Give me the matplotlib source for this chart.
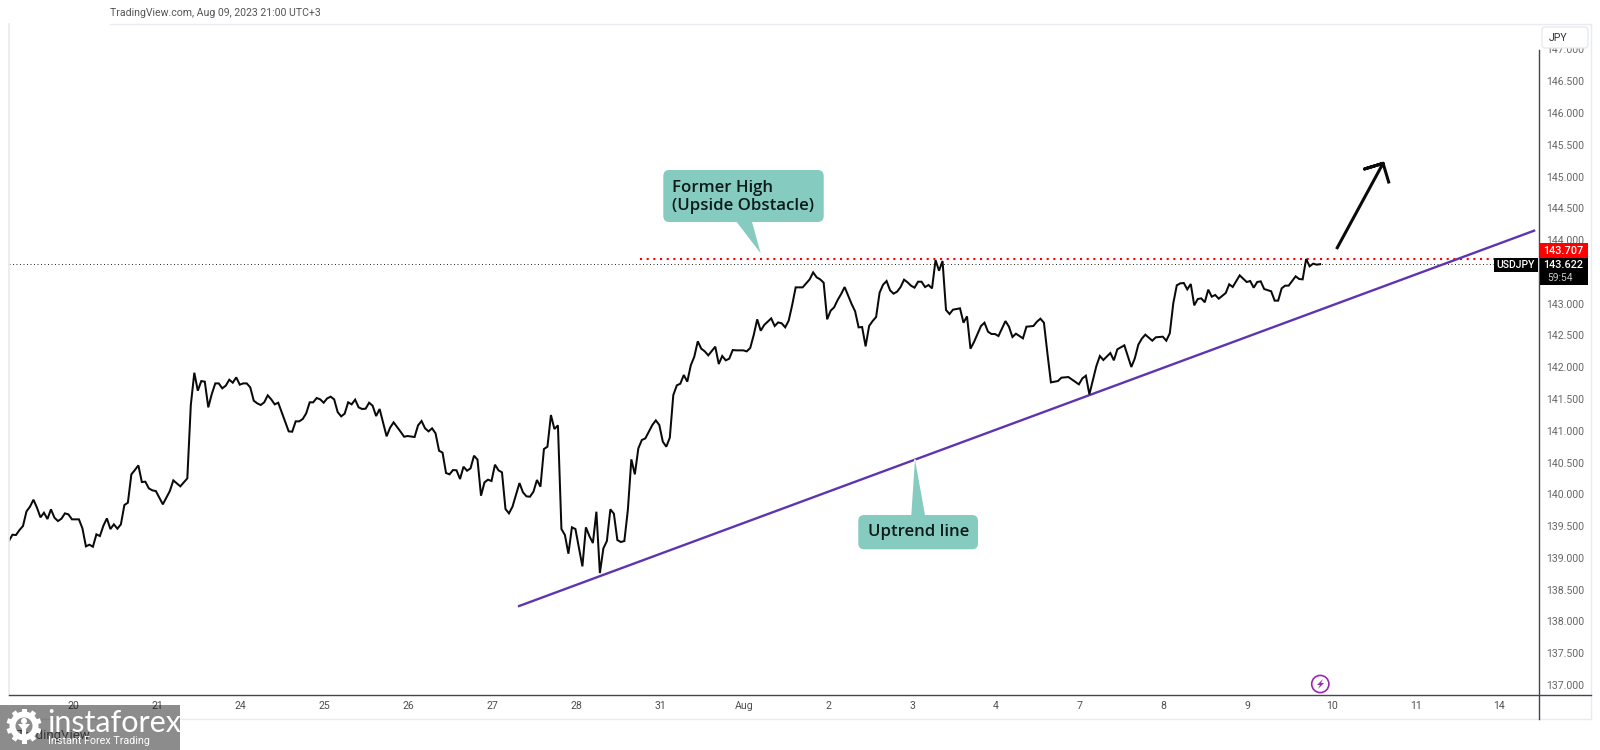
#!/usr/bin/env python3
"""USDJPY hourly chart with uptrend line and former high, TradingView style."""

import matplotlib
matplotlib.use("Agg")
import matplotlib.pyplot as plt
from matplotlib.patches import Circle, FancyBboxPatch, Polygon, Rectangle, Wedge
from matplotlib.transforms import Affine2D

plt.rcParams["font.family"] = ["Roboto", "DejaVu Sans"]

# hourly bar number and close
BARS = [
    0, 1, 2, 3, 4, 5, 6, 7, 8, 9,
    10, 11, 12, 13, 14, 15, 16, 17, 18, 20,
    21, 22, 23, 24, 25, 26, 27, 28, 29, 30,
    31, 32, 33, 34, 35, 36, 37, 38, 39, 40,
    41, 42, 44, 46, 47, 49, 51, 52, 53, 54,
    55, 56, 57, 58, 59, 60, 61, 62, 63, 64,
    65, 66, 67, 68, 69, 70, 71, 72, 73, 74,
    75, 76, 77, 80, 81, 82, 83, 84, 85, 86,
    87, 88, 89, 90, 91, 92, 93, 94, 95, 96,
    97, 98, 99, 100, 101, 102, 103, 104, 105, 106,
    108, 109, 110, 112, 113, 114, 116, 117, 118, 119,
    120, 121, 122, 123, 124, 125, 126, 127, 128, 129,
    130, 131, 132, 133, 134, 135, 136, 137, 138, 139,
    140, 141, 142, 143, 144, 146, 147, 148, 149, 150,
    151, 152, 153, 154, 155, 156, 157, 158, 159, 160,
    161, 162, 164, 165, 166, 167, 168, 169, 170, 171,
    172, 173, 174, 175, 176, 177, 178, 179, 180, 181,
    182, 183, 184, 185, 186, 187, 188, 189, 190, 191,
    192, 193, 194, 195, 196, 197, 198, 199, 200, 202,
    203, 204, 205, 206, 207, 208, 210, 211, 212, 213,
    214, 215, 216, 218, 219, 220, 221, 222, 223, 224,
    225, 227, 229, 230, 231, 232, 233, 234, 235, 236,
    237, 238, 239, 241, 242, 243, 244, 245, 246, 247,
    248, 249, 250, 251, 252, 253, 254, 255, 256, 257,
    258, 259, 260, 261, 262, 263, 264, 265, 266, 267,
    268, 269, 270, 272, 273, 274, 275, 276, 278, 279,
    280, 281, 282, 283, 285, 286, 287, 288, 290, 291,
    293, 294, 295, 296, 297, 298, 300, 301, 303, 306,
    307, 308, 309, 311, 312, 313, 315, 316, 317, 319,
    321, 322, 323, 324, 325, 327, 328, 330, 331, 332,
    333, 334, 335, 336, 337, 338, 339, 340, 341, 342,
    343, 344, 345, 346, 348, 349, 350, 352, 354, 355,
    356, 357, 358, 359, 361, 362, 363, 364, 365, 366,
    368, 369, 370, 371, 372, 373, 374, 375,
]
PRICES = [
    139.271, 139.365, 139.360, 139.439, 139.502, 139.732, 139.806, 139.916, 139.790, 139.638,
    139.711, 139.612, 139.764, 139.633, 139.580, 139.617, 139.701, 139.685, 139.607, 139.607,
    139.465, 139.182, 139.208, 139.176, 139.371, 139.344, 139.507, 139.622, 139.454, 139.528,
    139.460, 139.528, 139.832, 139.869, 140.315, 140.383, 140.456, 140.194, 140.199, 140.094,
    140.063, 140.052, 139.843, 140.052, 140.220, 140.126, 140.252, 141.406, 141.914, 141.631,
    141.783, 141.773, 141.369, 141.579, 141.746, 141.746, 141.668, 141.710, 141.804, 141.757,
    141.841, 141.726, 141.746, 141.746, 141.684, 141.474, 141.432, 141.406, 141.448, 141.558,
    141.495, 141.416, 141.442, 140.991, 140.986, 141.149, 141.149, 141.185, 141.274, 141.448,
    141.448, 141.516, 141.495, 141.442, 141.510, 141.537, 141.495, 141.295, 141.227, 141.269,
    141.448, 141.416, 141.490, 141.369, 141.343, 141.348, 141.442, 141.395, 141.232, 141.343,
    140.913, 141.049, 141.133, 140.986, 140.907, 140.918, 140.902, 141.086, 141.154, 141.039,
    140.991, 141.039, 140.960, 140.687, 140.656, 140.336, 140.315, 140.383, 140.378, 140.241,
    140.435, 140.372, 140.409, 140.608, 140.546, 139.979, 140.189, 140.231, 140.210, 140.467,
    140.378, 140.346, 139.769, 139.701, 139.806, 140.178, 140.032, 139.969, 139.963, 140.042,
    140.226, 140.121, 140.713, 140.750, 141.248, 141.028, 141.086, 139.455, 139.360, 139.066,
    139.481, 139.455, 138.867, 139.481, 139.344, 139.234, 139.727, 138.762, 139.150, 139.266,
    139.764, 139.696, 139.281, 139.250, 139.266, 139.754, 140.551, 140.315, 140.724, 140.855,
    140.881, 140.986, 141.091, 141.164, 141.091, 140.829, 140.750, 140.892, 141.563, 141.715,
    141.741, 141.878, 141.773, 142.030, 142.166, 142.408, 142.292, 142.250, 142.187, 142.324,
    142.051, 142.177, 142.109, 142.135, 142.271, 142.266, 142.266, 142.250, 142.303, 142.507,
    142.754, 142.575, 142.665, 142.769, 142.649, 142.706, 142.691, 142.628, 142.733, 142.979,
    143.257, 143.257, 143.383, 143.493, 143.415, 143.383, 143.331, 142.754, 142.890, 142.943,
    143.058, 143.152, 143.262, 142.995, 142.880, 142.628, 142.633, 142.329, 142.649, 142.727,
    142.790, 143.173, 143.299, 143.357, 143.210, 143.158, 143.189, 143.262, 143.378, 143.336,
    143.283, 143.252, 143.346, 143.346, 143.262, 143.294, 143.241, 143.687, 143.519, 143.672,
    142.901, 142.838, 142.906, 142.927, 142.701, 142.801, 142.292, 142.397, 142.649, 142.701,
    142.560, 142.523, 142.523, 142.491, 142.727, 142.638, 142.476, 142.528, 142.455, 142.638,
    142.649, 142.717, 142.764, 142.701, 142.219, 141.762, 141.783, 141.836, 141.846, 141.731,
    141.825, 141.867, 141.574, 142.019, 142.177, 142.114, 142.224, 142.109, 142.282, 142.345,
    142.004, 142.140, 142.355, 142.450, 142.513, 142.418, 142.471, 142.481, 142.418, 142.534,
    143.006, 143.289, 143.320, 143.326, 143.226, 143.310, 142.974, 143.074, 143.084, 143.022,
    143.221, 143.111, 143.137, 143.079, 143.168, 143.305, 143.263, 143.446, 143.341, 143.357,
    143.252, 143.341, 143.352, 143.231, 143.195, 143.048, 143.048, 143.242, 143.284, 143.284,
    143.431, 143.389, 143.383, 143.703, 143.588, 143.630, 143.614, 143.622,
]

DAY_LABELS = ["20", "21", "24", "25", "26", "27", "28", "31", "Aug",
              "2", "3", "4", "7", "8", "9", "10", "11", "14"]
PRICE_TICKS = [137.0, 137.5, 138.0, 138.5, 139.0, 139.5, 140.0, 140.5, 141.0, 141.5,
               142.0, 142.5, 143.0, 143.5, 144.0, 144.5, 145.0, 145.5, 146.0, 146.5, 147.0]

FORMER_HIGH = 143.707
LAST_PRICE = 143.622
TREND_BARS = [145.9, 436.2]
TREND_PRICES = [138.243, 144.149]
ARROW_BARS = [379.9, 393.0, 387.7, 393.0, 394.6]
ARROW_PRICES = [143.881, 145.209, 145.120, 145.209, 144.915]

BARS_PER_DAY = 24
FIRST_TICK_BAR = 18.3
TEAL = "#85cbbf"
FRAME = "#e9ebf0"


def y_edge(box, tip):
    return box[3] if tip[1] > box[3] else box[1]


def callout(pix, box, tip, base, text_xy, lines):
    x0, y0, x1, y1 = box
    pointer = [(base[0], y_edge(box, tip)), tip, (base[1], y_edge(box, tip))]
    # white halo first, it opens the small gap where a pointer meets a line
    pix.add_patch(Polygon(pointer, closed=True, fc="white", ec="white", lw=1.2, zorder=2))
    pix.add_patch(Polygon(pointer, closed=True, fc=TEAL, ec="none", zorder=2.5))
    pix.add_patch(FancyBboxPatch((x0 + 6, y0 + 6), x1 - x0 - 12, y1 - y0 - 12,
                                 boxstyle="round,pad=6,rounding_size=6",
                                 fc=TEAL, ec="none", zorder=3))
    for (tx, ty, ha), line in zip(text_xy, lines):
        pix.text(tx, ty, line, ha=ha, va="center", fontsize=12.1, color="#0c1a1a",
                 family=["Open Sans", "DejaVu Sans"], weight="semibold", zorder=4)


def draw_logo(pix):
    # semi transparent block lets the labels beneath show through
    pix.text(90, 735, "TradingView", fontsize=9.5, ha="right", va="center", color="#666666")
    pix.add_patch(Rectangle((0, 705), 180, 45, fc="black", alpha=0.45, ec="none", zorder=5))
    cx, cy = 24, 726
    pix.add_patch(Wedge((cx, cy), 14.5, 0, 360, width=6, fc="white", ec="none", zorder=6))
    for k in range(10):
        tooth = Rectangle((cx - 2.5, cy - 17.5), 5, 6, fc="white", ec="none", zorder=6,
                          transform=Affine2D().rotate_deg_around(cx, cy, 36 * k) + pix.transData)
        pix.add_patch(tooth)
    pix.add_patch(Circle((cx, cy - 5), 3, fc="white", ec="none", zorder=6))
    pix.add_patch(Polygon([(cx - 6, cy - 2), (cx + 6, cy - 2), (cx + 2, cy + 3), (cx + 2, cy + 14),
                           (cx - 2, cy + 14), (cx - 2, cy + 3)], fc="white", ec="none", zorder=6))
    pix.text(47, 723, "instaforex", fontsize=22, color="white", ha="left", va="center",
             family=["Lato", "DejaVu Sans"], zorder=6)
    pix.text(48, 741, "Instant Forex Trading", fontsize=7.75, color="white", ha="left", va="center",
             zorder=6)


def main():
    fig = plt.figure(figsize=(16, 7.5), dpi=100, facecolor="white")
    ax = fig.add_axes([9 / 1600, 1 - 695 / 750, 1530 / 1600, 671 / 750])
    ax.set_xlim(0, 437.6)
    ax.set_ylim(136.843, 147.401)

    ax.plot(BARS, PRICES, color="#0a0a0a", lw=1.45, solid_joinstyle="miter", zorder=4)
    ax.plot(TREND_BARS, TREND_PRICES, color="#5e35b1", lw=1.7, zorder=3)
    ax.plot(ARROW_BARS, ARROW_PRICES, color="#0a0a0a", lw=2.2, zorder=4)
    ax.plot([180.5, 425], [FORMER_HIGH, FORMER_HIGH], color="#ff0000", lw=1.5,
            linestyle=(0, (1, 2.2)), zorder=2)
    ax.plot([0, 425], [LAST_PRICE, LAST_PRICE], color="#222222", lw=0.7,
            linestyle=(0, (1, 2.6)), zorder=2)

    ax.set_xticks([FIRST_TICK_BAR + BARS_PER_DAY * i for i in range(len(DAY_LABELS))])
    ax.set_xticklabels(DAY_LABELS)
    ax.set_yticks(PRICE_TICKS)
    ax.set_yticklabels([f"{p:.3f}" for p in PRICE_TICKS])
    ax.yaxis.tick_right()
    ax.tick_params(axis="y", length=0, pad=5.5, labelsize=7.6, labelcolor="#666666")
    ax.tick_params(axis="x", length=0, pad=4.5, labelsize=7.6, labelcolor="#4f4f4f")
    for side in ("top", "left", "right", "bottom"):
        ax.spines[side].set_visible(False)

    # everything outside the price scales is placed in picture pixels
    pix = fig.add_axes([0, 0, 1, 1], facecolor="none")
    pix.set_xlim(0, 1600)
    pix.set_ylim(750, 0)
    pix.axis("off")

    pix.plot([110, 1591], [23.5, 23.5], color=FRAME, lw=1)
    pix.plot([8.7, 8.7], [24, 695], color=FRAME, lw=1.2)
    pix.plot([9, 1591], [719, 719], color=FRAME, lw=1)
    pix.plot([1591, 1591], [24, 719], color=FRAME, lw=1)
    pix.plot([9, 1591], [695, 695], color="#434651", lw=1)
    pix.plot([1539, 1539], [50, 719], color="#434651", lw=1)

    pix.text(110, 13, "TradingView.com, Aug 09, 2023 21:00 UTC+3", fontsize=7.55, color="#555555",
             ha="left", va="center")

    pix.add_patch(FancyBboxPatch((1546, 31), 38, 13, boxstyle="round,pad=4,rounding_size=3",
                                 fc="white", ec="#e6e8ee", lw=0.9, zorder=3))
    pix.text(1558, 38, "JPY", fontsize=7.6, color="#333333", ha="center", va="center", zorder=4)

    # price tags on the scale
    pix.add_patch(Rectangle((1539.5, 243.3), 48.5, 15, fc="#ff0000", ec="none", zorder=3))
    pix.add_patch(Rectangle((1539.5, 258.3), 48.5, 26.7, fc="black", ec="none", zorder=3))
    pix.add_patch(Rectangle((1494.3, 258.3), 43.4, 14, fc="black", ec="none", zorder=3))
    pix.text(1563.5, 251, f"{FORMER_HIGH:.3f}", fontsize=7.8, color="white", weight="medium",
             ha="center", va="center", zorder=4)
    pix.text(1563.5, 265.3, f"{LAST_PRICE:.3f}", fontsize=7.8, color="white", weight="medium",
             ha="center", va="center", zorder=4)
    pix.text(1547, 278, "59:54", fontsize=7.4, color="#c8c8c8", ha="left", va="center", zorder=4)
    pix.text(1516, 265.3, "USDJPY", fontsize=7.6, color="white", weight="medium",
             ha="center", va="center", zorder=4)

    callout(pix, (663.3, 170, 823.7, 222), (760.7, 253.3), (736.7, 752),
            [(672, 187.5, "left"), (672, 205.5, "left")], ["Former High", "(Upside Obstacle)"])
    callout(pix, (858.3, 515, 978, 549.3), (915, 459.5), (911.3, 925),
            [(918.3, 531.7, "center")], ["Uptrend line"])

    # lightning marker under the last bars
    pix.add_patch(Circle((1320.3, 684), 8.6, fc="white", ec="#9c27b0", lw=1.2, zorder=3))
    pix.add_patch(Polygon([(1323, 679), (1317, 685), (1320, 685), (1318, 689), (1324, 683),
                           (1321, 683)], fc="#9c27b0", ec="none", zorder=4))

    draw_logo(pix)

    fig.savefig("out.png", dpi=100)
    plt.close(fig)


if __name__ == "__main__":
    main()
